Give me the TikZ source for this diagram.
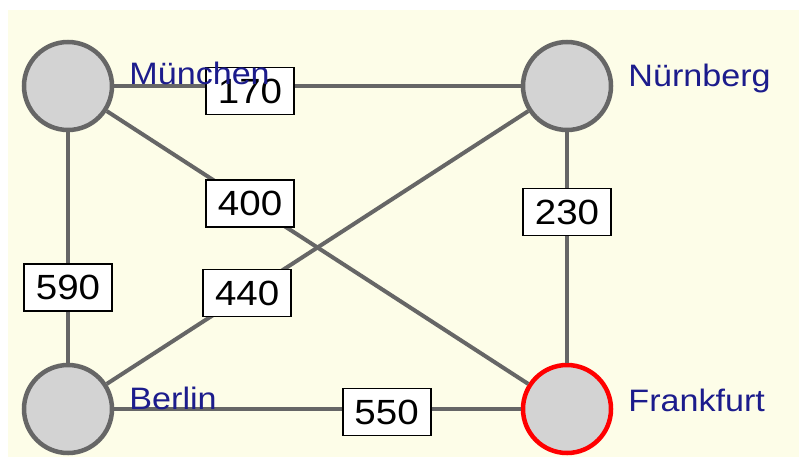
\documentclass[tikz,border=0pt]{standalone}
\usepackage{fontspec}
\setsansfont{Liberation Sans}[FakeStretch=1.1]
\usepackage{xcolor}
\definecolor{paper}{RGB}{253,253,232}
\definecolor{cityfill}{RGB}{211,211,211}
\definecolor{cityedge}{RGB}{102,102,102}
\definecolor{cityname}{RGB}{28,28,140}
\usetikzlibrary{positioning}

\begin{document}
\begin{tikzpicture}[x=1pt, y=-1pt,
    city/.style={circle, draw=cityedge, fill=cityfill, line width=4.5pt, inner sep=0pt, minimum size=88pt},
    citytext/.style={inner sep=0pt, text=cityname, font=\sffamily\fontsize{31}{34}\selectfont},
    road/.style={draw=cityedge, line width=4pt},
    weight/.style={rectangle, draw=black, line width=1.8pt, fill=white, inner sep=0pt, minimum width=88pt, minimum height=47pt, font=\sffamily\fontsize{35}{38}\selectfont}]
    \useasboundingbox (0,0) rectangle (799,466);
    \fill[paper] (8,10) rectangle (799,457);

    \node[city] (muenchen) at (68,86) {};
    \node[city] (nuernberg) at (567,86) {};
    \node[city] (berlin) at (68,409) {};
    \node[city, draw=red] (frankfurt) at (567,409) {};

    \draw[road] (muenchen) -- (nuernberg) node[weight, pos=0.334, yshift=-5pt] (w170) {170};
    \draw[road] (muenchen) -- (frankfurt) node[weight, pos=0.34] (w400) {400};
    \draw[road] (berlin) -- (nuernberg) node[weight, pos=0.333] (w440) {440};
    \draw[road] (muenchen) -- (berlin) node[weight, pos=0.675] (w590) {590};
    \draw[road] (nuernberg) -- (frankfurt) node[weight, pos=0.346] (w230) {230};
    \draw[road] (berlin) -- (frankfurt) node[weight, pos=0.67, yshift=-3pt] (w550) {550};

    \node[citytext, right=15pt of muenchen, anchor=base west, yshift=2pt] (muenchenname) {München};
    \node[citytext, right=15pt of nuernberg, anchor=base west] (nuernbergname) {Nürnberg};
    \node[citytext, right=15pt of berlin, anchor=base west] (berlinname) {Berlin};
    \node[citytext, right=15pt of frankfurt, anchor=base west, yshift=-2pt] (frankfurtname) {Frankfurt};
\end{tikzpicture}
\end{document}
